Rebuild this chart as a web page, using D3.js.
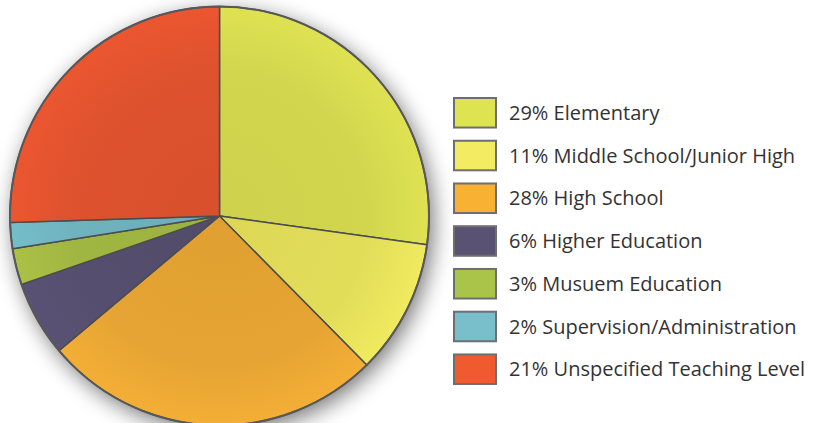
<!DOCTYPE html>
<html>
<head>
<meta charset="utf-8">
<script src="https://cdn.jsdelivr.net/npm/d3@7"></script>
<style>
  body { margin: 0; background: #ffffff; }
  svg { display: block; }
</style>
</head>
<body>
<svg id="chart" width="817" height="423"></svg>
<script>
// slice sizes as drawn in the picture (legend text keeps its own printed percentages)
var categories = ['Elementary', 'Middle School/Junior High', 'High School', 'Higher Education',
                  'Musuem Education', 'Supervision/Administration', 'Unspecified Teaching Level'];
var sliceValues = [27.2, 10.4, 26.3, 5.8, 2.8, 2.0, 25.5];
var legendPercents = ['29%', '11%', '28%', '6%', '3%', '2%', '21%'];
var sliceColors = ['#d8dc50', '#e9e35c', '#eca934', '#575071', '#a5bb44', '#72b8c4', '#e4542f'];
var legendColors = ['#dde351', '#f3ec62', '#f8b133', '#5a5273', '#aac44a', '#78bfcb', '#f05a2f'];

var svg = d3.select('#chart');
var cx = 219.5, cy = 216, radius = 209.5;

var defs = svg.append('defs');

// soft drop shadow around the pie
var shadow = defs.append('filter')
  .attr('id', 'pieShadow')
  .attr('x', '-20%').attr('y', '-20%')
  .attr('width', '140%').attr('height', '140%');
shadow.append('feGaussianBlur').attr('in', 'SourceAlpha').attr('stdDeviation', 11);
shadow.append('feOffset').attr('dx', 4).attr('dy', 6).attr('result', 'blur');
shadow.append('feComponentTransfer').append('feFuncA').attr('type', 'linear').attr('slope', 0.55);
var merge = shadow.append('feMerge');
merge.append('feMergeNode');
merge.append('feMergeNode').attr('in', 'SourceGraphic');

// each slice a bit darker toward the middle
sliceColors.forEach(function(c, i) {
  var g = defs.append('radialGradient')
    .attr('id', 'grad' + i)
    .attr('gradientUnits', 'userSpaceOnUse')
    .attr('cx', 0).attr('cy', 0).attr('r', radius);
  g.append('stop').attr('offset', '0%').attr('stop-color', d3.color(c).darker(0.15));
  g.append('stop').attr('offset', '70%').attr('stop-color', d3.color(c).darker(0.08));
  g.append('stop').attr('offset', '100%').attr('stop-color', d3.color(c).brighter(0.08));
});

var pie = d3.pie()
  .sort(null)
  .value(function(d) { return d; });

var arc = d3.arc()
  .innerRadius(0)
  .outerRadius(radius);

var pieGroup = svg.append('g')
  .attr('transform', 'translate(' + cx + ',' + cy + ')');

// shadow disc underneath
pieGroup.append('circle')
  .attr('r', radius)
  .attr('fill', '#ffffff')
  .attr('filter', 'url(#pieShadow)');

pieGroup.selectAll('path.slice')
  .data(pie(sliceValues))
  .enter().append('path')
  .attr('class', 'slice')
  .attr('d', arc)
  .attr('fill', function(d, i) { return 'url(#grad' + i + ')'; })
  .attr('stroke', '#4d4d4f')
  .attr('stroke-width', 1.5)
  .attr('stroke-linejoin', 'round');

// outer rim
pieGroup.append('circle')
  .attr('r', radius)
  .attr('fill', 'none')
  .attr('stroke', '#58585a')
  .attr('stroke-width', 2);

// legend
var legendY = d3.scaleBand()
  .domain(categories)
  .range([97, 385])
  .paddingInner(0.262)
  .paddingOuter(0);

var legend = svg.append('g');

var rows = legend.selectAll('g.row')
  .data(categories)
  .enter().append('g')
  .attr('class', 'row')
  .attr('transform', function(d) { return 'translate(0,' + legendY(d) + ')'; });

rows.append('rect')
  .attr('x', 454)
  .attr('y', 1)
  .attr('width', 42)
  .attr('height', legendY.bandwidth() - 2)
  .attr('fill', function(d, i) { return legendColors[i]; })
  .attr('stroke', '#6d6e71')
  .attr('stroke-width', 2);

rows.append('text')
  .attr('x', 509)
  .attr('y', 23)
  .attr('fill', '#333333')
  .style('font-family', '"Open Sans", "Noto Sans", sans-serif')
  .style('font-size', '20px')
  .text(function(d, i) { return legendPercents[i] + ' ' + d; });
</script>
</body>
</html>
